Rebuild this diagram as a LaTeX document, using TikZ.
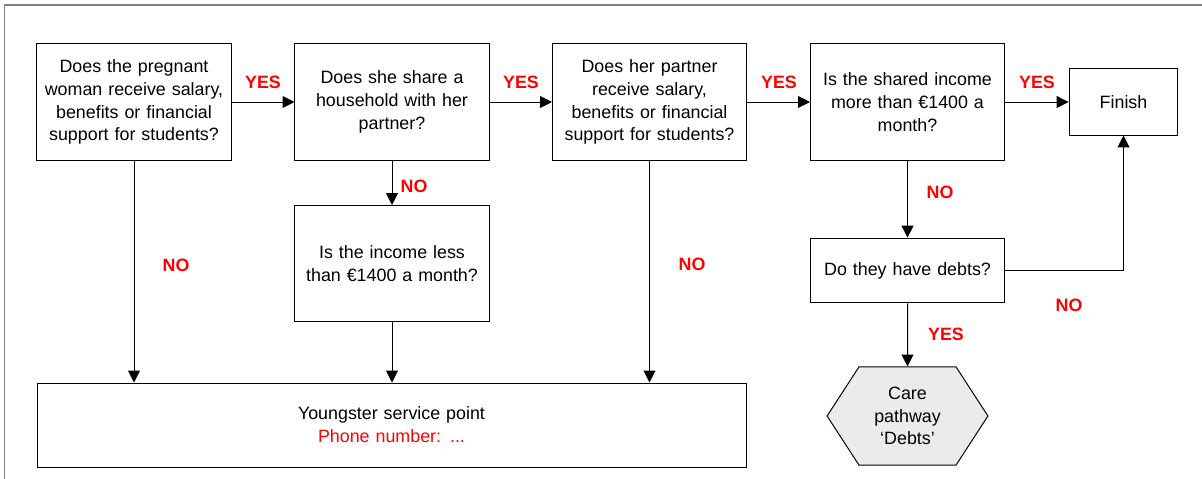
\documentclass[tikz,border=0pt]{standalone}
\usepackage{fontspec}
\setmainfont{Liberation Sans}
\usepackage{xcolor}
\usetikzlibrary{arrows.meta, positioning, calc, shapes.symbols}
\definecolor{framegray}{RGB}{128,128,128}
\definecolor{hexfill}{RGB}{235,235,235}
\tikzset{
every node/.style={font=\fontsize{12.7}{16.2}\selectfont},
question/.style={
  draw, rectangle, line width=0.7pt,
  minimum width=4.85cm, minimum height=2.9cm,
  text width=4.6cm, align=center, inner sep=0pt
},
finishbox/.style={question, minimum width=2.72cm, minimum height=1.65cm, text width=2.5cm},
debtbox/.style={question, minimum height=1.62cm},
pathway/.style={
  draw, signal, signal to=east and west, signal pointer angle=114,
  fill=hexfill, line width=0.7pt, align=center,
  minimum width=4.02cm, minimum height=2.45cm, inner sep=0pt
},
answer/.style={text=red, font=\fontsize{12.7}{16.2}\selectfont\bfseries},
line/.style={draw, line width=0.7pt, -{Triangle[length=8.5pt,width=8.5pt]}},
}

\begin{document}
\begin{tikzpicture}[x=0.025cm, y=-0.025cm]
    \useasboundingbox (0,0) rectangle (1202,479);
    % frame
    \draw[framegray, line width=1.1pt] (4.5,479) -- (4.5,5) -- (1202,5);

    % questions
    \node[question] (q1) at (134,102) {Does the pregnant\\ woman receive salary,\\ benefits or financial\\ support for students?};
    \node[question] (q2) at (392,102) {Does she share a\\ household with her\\ partner?};
    \node[question] (q3) at (649.5,102) {Does her partner\\ receive salary,\\ benefits or financial\\ support for students?};
    \node[question] (q4) at (907.5,102) {Is the shared income\\ more than \texteuro1400 a\\ month?};
    \node[finishbox] (fin) at (1123.5,102) {Finish};
    \node[question] (inc) at (392,263.5) {Is the income less\\ than \texteuro1400 a month?};
    \node[debtbox] (debt) at (907.5,270.5) {Do they have debts?};
    \node[question, minimum width=17.72cm, minimum height=2.1cm, text width=8cm] (ysp) at (391.5,425)
        {Youngster service point\\ \textcolor{red}{Phone number: ...}};
    \node[pathway] (care) at (907.5,416) {Care\\ pathway\\ `Debts'};

    % yes branch
    \path[line] (q1) -- (q2);
    \path[line] (q2) -- (q3);
    \path[line] (q3) -- (q4);
    \path[line] (q4) -- (fin);
    \node[answer] (y1) at (263,82) {YES};
    \node[answer] (y2) at (521,82) {YES};
    \node[answer] (y3) at (779,82) {YES};
    \node[answer] (y4) at (1037,82) {YES};

    % no branch
    \path[line] (q2) -- (inc);
    \path[line] (q4) -- (debt);
    \path[line] (q1.south) -- (q1.south |- ysp.north);
    \path[line] (inc.south) -- (inc.south |- ysp.north);
    \path[line] (q3.south) -- (q3.south |- ysp.north);
    \path[line] (debt.east) -| (fin.south);
    \path[line] (debt) -- (care);
    \node[answer] (n1) at (176,265) {NO};
    \node[answer] (n2) at (414,186) {NO};
    \node[answer] (n3) at (692,264) {NO};
    \node[answer] (n4) at (940,192) {NO};
    \node[answer] (n5) at (1069,305) {NO};
    \node[answer] (y5) at (946,334) {YES};
\end{tikzpicture}
\end{document}
